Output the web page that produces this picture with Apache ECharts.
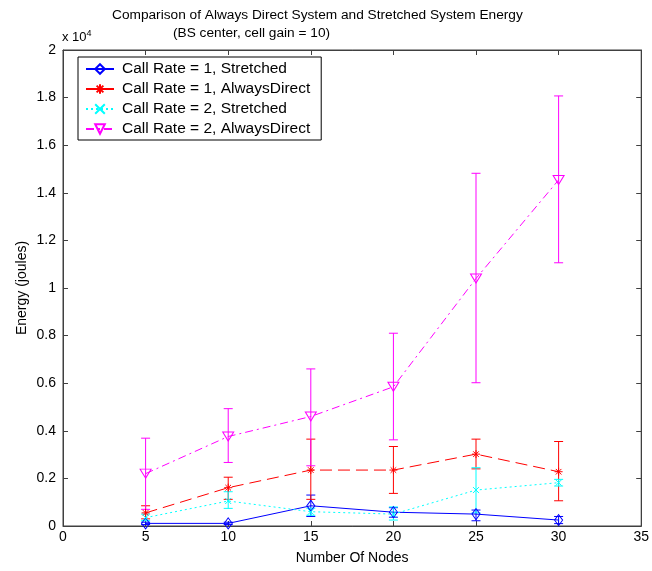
<!DOCTYPE html>
<html>
<head>
<meta charset="utf-8">
<script src="https://cdn.jsdelivr.net/npm/echarts@6/dist/echarts.min.js"></script>
<style>html,body{margin:0;padding:0;background:#fff}#c{width:652px;height:571px}</style>
</head>
<body>
<div id="c"></div>
<script>
// values in units of 10^4 joules
var nodes = [5, 10, 15, 20, 25, 30];
var xTicks = [0, 5, 10, 15, 20, 25, 30, 35];
var yTicks = [0, 0.2, 0.4, 0.6, 0.8, 1, 1.2, 1.4, 1.6, 1.8, 2];

var strCR1   = [0.011, 0.011, 0.085, 0.058, 0.050, 0.025];
var strCR1Lo = [0.006, 0.006, 0.040, 0.037, 0.022, 0.010];
var strCR1Hi = [0.016, 0.016, 0.130, 0.077, 0.067, 0.040];

var adCR1   = [0.055, 0.161, 0.235, 0.235, 0.302, 0.228];
var adCR1Lo = [0.030, 0.112, 0.112, 0.137, 0.240, 0.106];
var adCR1Hi = [0.085, 0.205, 0.365, 0.334, 0.365, 0.355];

var strCR2   = [0.035, 0.105, 0.060, 0.050, 0.151, 0.182];
var strCR2Lo = [0.022, 0.074, 0.045, 0.025, 0.055, 0.168];
var strCR2Hi = [0.050, 0.144, 0.075, 0.080, 0.245, 0.196];

var adCR2   = [0.220, 0.376, 0.460, 0.585, 1.040, 1.454];
var adCR2Lo = [0.070, 0.267, 0.253, 0.362, 0.602, 1.106];
var adCR2Hi = [0.369, 0.493, 0.660, 0.810, 1.482, 1.807];

var names = ['Call Rate = 1, Stretched', 'Call Rate = 1, AlwaysDirect',
             'Call Rate = 2, Stretched', 'Call Rate = 2, AlwaysDirect'];
var colors = ['#0000ff', '#ff0000', '#00ffff', '#ff00ff'];

var FONT = '"Liberation Sans", Arial, sans-serif';

function pairs(ys) { return nodes.map(function (x, i) { return [x, ys[i]]; }); }
function errData(lo, hi) { return nodes.map(function (x, i) { return [x, lo[i], hi[i]]; }); }

function errSeries(lo, hi, color) {
  return {
    type: 'custom',
    silent: true,
    z: 1,
    data: errData(lo, hi),
    encode: { x: 0, y: [1, 2] },
    renderItem: function (params, api) {
      var x = api.value(0);
      var p1 = api.coord([x, api.value(1)]);
      var p2 = api.coord([x, api.value(2)]);
      var hw = 4.5;
      var st = { stroke: color, lineWidth: 1 };
      return {
        type: 'group',
        children: [
          { type: 'line', shape: { x1: p1[0], y1: p1[1], x2: p2[0], y2: p2[1] }, style: st },
          { type: 'line', shape: { x1: p1[0] - hw, y1: p1[1], x2: p1[0] + hw, y2: p1[1] }, style: st },
          { type: 'line', shape: { x1: p2[0] - hw, y1: p2[1], x2: p2[0] + hw, y2: p2[1] }, style: st }
        ]
      };
    }
  };
}

var starPath = 'path://M5,0L5,10M0,5L10,5M1.5,1.5L8.5,8.5M8.5,1.5L1.5,8.5';
var xPath = 'path://M0,0L10,10M10,0L0,10';

function lineSeries(name, ys, color, symbol, size, dash, rotate) {
  return {
    name: name,
    type: 'line',
    z: 3,
    data: pairs(ys),
    symbol: symbol,
    symbolSize: size,
    symbolRotate: rotate || 0,
    showSymbol: true,
    lineStyle: { color: color, width: 1, type: dash },
    itemStyle: { color: 'rgba(0,0,0,0)', borderColor: color, borderWidth: 1 },
    emphasis: { disabled: true },
    animation: false
  };
}

var chart = echarts.init(document.getElementById('c'), null, { renderer: 'canvas' });

var axisCommon = {
  axisLine: { show: true, onZero: false, lineStyle: { color: '#404040', width: 1 } },
  axisTick: { show: true, inside: true, length: 5, lineStyle: { color: '#404040' } },
  splitLine: { show: false }
};

chart.setOption({
  animation: false,
  backgroundColor: '#fff',
  textStyle: { fontFamily: FONT },
  title: [
    { text: 'Comparison of Always Direct System and Stretched System Energy', left: 107, top: 3,
      textStyle: { fontSize: 13.7, fontWeight: 'normal', color: '#000', fontFamily: FONT } },
    { text: '(BS center, cell gain = 10)', left: 168, top: 21,
      textStyle: { fontSize: 13.7, fontWeight: 'normal', color: '#000', fontFamily: FONT } }
  ],
  graphic: [
    { type: 'text', left: 62, top: 29,
      style: { text: '{a|x 10}{b|4}', rich: {
        a: { fontSize: 13, fontFamily: FONT, fill: '#000', verticalAlign: 'bottom', lineHeight: 15 },
        b: { fontSize: 9, fontFamily: FONT, fill: '#000', verticalAlign: 'top', lineHeight: 15, padding: [0, 0, 6, 0] } } } }
  ],
  legend: {
    orient: 'vertical',
    left: 78, top: 57,
    padding: [4, 11, 3, 7],
    itemGap: 4,
    itemWidth: 28,
    itemHeight: 12,
    borderColor: '#000',
    borderWidth: 1,
    backgroundColor: '#fff',
    data: names,
    textStyle: { fontSize: 15.5, lineHeight: 15, color: '#000', fontFamily: FONT, padding: [0, 0, 0, 3] },
    selectedMode: false
  },
  grid: { left: 63, right: 7, top: 50, bottom: 45, containLabel: false,
    show: true, borderColor: '#404040', borderWidth: 1, backgroundColor: 'transparent' },
  xAxis: [
    Object.assign({
      type: 'value', min: 0, max: 35, interval: 5, position: 'bottom',
      name: 'Number Of Nodes', nameLocation: 'middle', nameGap: 25,
      nameTextStyle: { fontSize: 14, color: '#000', fontFamily: FONT },
      axisLabel: { fontSize: 14, color: '#000', margin: 4, fontFamily: FONT,
        formatter: function (v) { return xTicks.indexOf(v) >= 0 ? String(v) : ''; } }
    }, axisCommon),
    Object.assign({
      type: 'value', min: 0, max: 35, interval: 5, position: 'top',
      axisLabel: { show: false }
    }, axisCommon)
  ],
  yAxis: [
    Object.assign({
      type: 'value', min: 0, max: 2, interval: 0.2, position: 'left',
      name: 'Energy (joules)', nameLocation: 'middle', nameGap: 34, nameRotate: 90,
      nameMoveOverlap: false,
      nameTextStyle: { fontSize: 14, color: '#000', fontFamily: FONT },
      axisLabel: { fontSize: 14, color: '#000', margin: 7, fontFamily: FONT,
        formatter: function (v) { var r = Math.round(v * 10) / 10; return yTicks.indexOf(r) >= 0 ? String(r) : ''; } }
    }, axisCommon),
    Object.assign({
      type: 'value', min: 0, max: 2, interval: 0.2, position: 'right',
      axisLabel: { show: false }
    }, axisCommon)
  ],
  series: [
    errSeries(strCR1Lo, strCR1Hi, colors[0]),
    errSeries(adCR1Lo, adCR1Hi, colors[1]),
    errSeries(strCR2Lo, strCR2Hi, colors[2]),
    errSeries(adCR2Lo, adCR2Hi, colors[3]),
    lineSeries(names[0], strCR1, colors[0], 'diamond', [8, 11], 'solid'),
    lineSeries(names[1], adCR1, colors[1], starPath, 8, [12, 6]),
    lineSeries(names[2], strCR2, colors[2], xPath, 6, [2, 3]),
    lineSeries(names[3], adCR2, colors[3], 'triangle', [11, 9], [8, 4, 2, 4], 180),
    { type: 'line', xAxisIndex: 1, yAxisIndex: 1, data: [], silent: true }
  ]
});
</script>
</body>
</html>
